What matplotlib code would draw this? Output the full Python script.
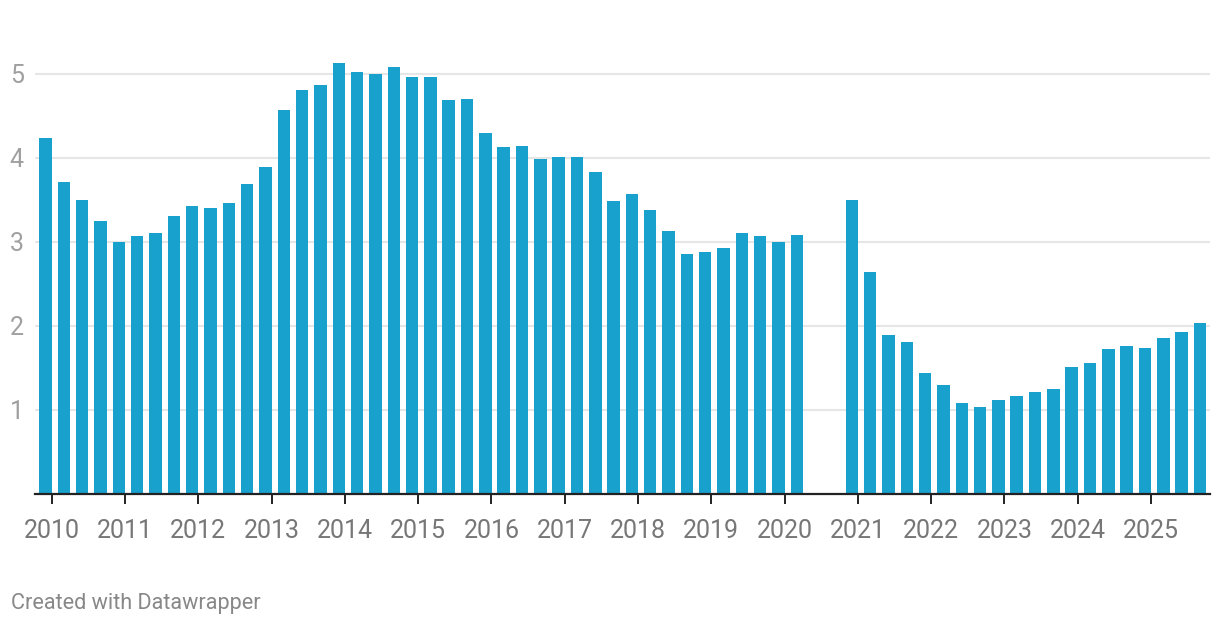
import matplotlib
matplotlib.use("Agg")
import matplotlib.pyplot as plt
import numpy as np

plt.rcParams['font.family'] = ['Roboto', 'DejaVu Sans']

# quarterly values, 2010 Q1 .. 2020 Q2, then 2021 Q1 .. 2025 Q4
years_a = [2010] * 4 + [2011] * 4 + [2012] * 4 + [2013] * 4 + [2014] * 4 + \
          [2015] * 4 + [2016] * 4 + [2017] * 4 + [2018] * 4 + [2019] * 4 + [2020] * 2
quarters_a = [1, 2, 3, 4] * 10 + [1, 2]
values_a = [4.23, 3.71, 3.50, 3.24, 2.99, 3.07, 3.10, 3.30, 3.42, 3.40, 3.46, 3.69,
            3.89, 4.56, 4.80, 4.86, 5.13, 5.02, 4.99, 5.08, 4.96, 4.96, 4.69, 4.70,
            4.29, 4.12, 4.14, 3.98, 4.01, 4.01, 3.83, 3.48, 3.57, 3.38, 3.12, 2.85,
            2.87, 2.92, 3.10, 3.06, 2.99, 3.08]

years_b = [2021] * 4 + [2022] * 4 + [2023] * 4 + [2024] * 4 + [2025] * 4
quarters_b = [1, 2, 3, 4] * 5
values_b = [3.50, 2.64, 1.89, 1.80, 1.43, 1.29, 1.08, 1.03, 1.11, 1.16, 1.21, 1.24,
            1.51, 1.55, 1.72, 1.76, 1.73, 1.85, 1.92, 2.03]

year_ticks = list(range(2010, 2026))
y_ticks = [1, 2, 3, 4, 5]

years = years_a + years_b
quarters = quarters_a + quarters_b
values = values_a + values_b

# bar dates: first month of each quarter shifted back one month
x = np.array(years) + (np.array(quarters) - 1) / 4 - 1 / 12

W, H = 1220, 626
fig = plt.figure(figsize=(W / 100, H / 100), dpi=100)
ax_left, ax_right = 35, 1210
ax_bottom, ax_top = 493.5, 40
ax = fig.add_axes([ax_left / W, (H - ax_bottom) / H,
                   (ax_right - ax_left) / W, (ax_bottom - ax_top) / H])

ax.bar(x, values, width=0.17, color='#18a1cd', zorder=2)

ax.set_xlim(2009.772, 2025.804)
ax.set_ylim(0, (ax_bottom - ax_top) / 84)

ax.set_yticks(y_ticks)
ax.set_yticklabels([str(v) for v in y_ticks])
ax.set_xticks(year_ticks)
ax.set_xticklabels([str(v) for v in year_ticks])

ax.grid(axis='y', color='#e6e6e6', linewidth=1.5, zorder=0)
for s in ['top', 'right', 'left']:
    ax.spines[s].set_visible(False)
ax.spines['bottom'].set_color('#222222')
ax.spines['bottom'].set_linewidth(1.6)
ax.spines['bottom'].set_zorder(3)

ax.tick_params(axis='y', length=0, pad=8, labelsize=18, labelcolor='#a0a0a0')
ax.tick_params(axis='x', length=7.5, width=1.4, color='#222222', pad=11,
               labelsize=18, labelcolor='#777777')

fig.text(11 / W, 1 - 603 / H, 'Created with Datawrapper', fontsize=15.6,
         color='#888888', ha='left', va='center')

fig.savefig('out.png', dpi=100)
